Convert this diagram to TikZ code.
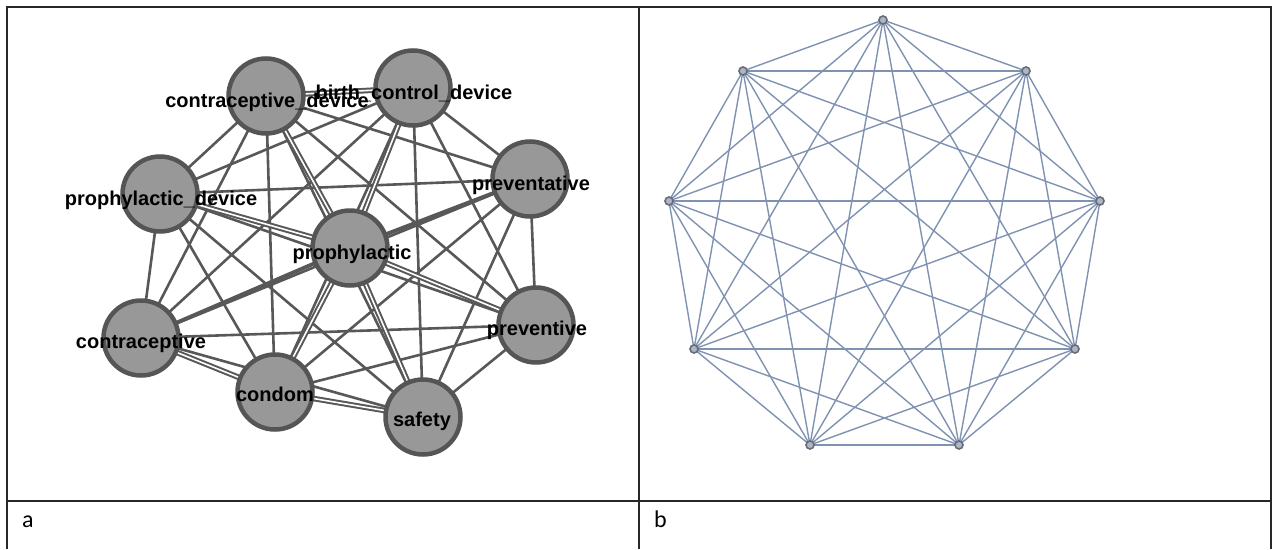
\documentclass[tikz,border=0pt]{standalone}
\usepackage{fontspec}
\setmainfont{Liberation Sans}
\newfontfamily\calfont{Carlito}
\usetikzlibrary{backgrounds}
\definecolor{edgegray}{RGB}{88,88,88}
\definecolor{nodefill}{RGB}{152,152,152}
\definecolor{nodeline}{RGB}{85,85,85}
\definecolor{blueedge}{RGB}{128,146,178}
\definecolor{bnodefill}{RGB}{175,182,194}
\definecolor{bnodeline}{RGB}{100,108,122}
\definecolor{framecol}{RGB}{40,40,40}
\begin{document}
\begin{tikzpicture}[x=1pt,y=-1pt,
  bignode/.style={circle, draw=nodeline, fill=nodefill, line width=4.5pt, minimum size=75pt, inner sep=0pt},
  wlabel/.style={font=\fontsize{20}{20}\selectfont\bfseries, inner sep=0pt, text=black, anchor=base},
  edgeone/.style={draw=edgegray, line width=2.6pt},
  edgethick/.style={draw=edgegray, line width=3.8pt},
  edgedbl/.style={draw=edgegray, line width=2pt, double=white, double distance=1.6pt},
  smallnode/.style={circle, draw=bnodeline, fill=bnodefill, line width=1.6pt, minimum size=8pt, inner sep=0pt},
  bedge/.style={draw=blueedge, line width=1.4pt},
  framestyle/.style={draw=framecol, line width=1.8pt},
  captext/.style={font=\calfont\fontsize{24}{26}\selectfont, anchor=base west, inner sep=0pt}
]
\useasboundingbox (0,0) rectangle (1272,549);
\begin{pgfonlayer}{background}
\fill[white] (0,0) rectangle (1272,549);
\end{pgfonlayer}

% table frame
\draw[framestyle] (7,549) -- (7,7) -- (1271,7) -- (1271,549);
\draw[framestyle] (639,7) -- (639,549);
\draw[framestyle] (7,501) -- (1271,501);
\node[captext] (capa) at (22,527) {a};
\node[captext] (capb) at (654,527) {b};

% panel a nodes
\node[bignode] (cd) at (266,96) {};
\node[bignode] (bcd) at (413,88) {};
\node[bignode] (pv) at (530,179) {};
\node[bignode] (pd) at (160,194) {};
\node[bignode] (p) at (350,248) {};
\node[bignode] (pve) at (536,325) {};
\node[bignode] (c) at (141,338) {};
\node[bignode] (co) at (275,392) {};
\node[bignode] (s) at (423,417) {};

\begin{pgfonlayer}{background}
\foreach \a/\b in {cd/pv, cd/pd, cd/pve, cd/c, cd/co, cd/s,
  bcd/pv, bcd/pd, bcd/pve, bcd/c, bcd/co, bcd/s,
  pv/pd, pv/pve, pv/c, pv/co, pv/s,
  pd/pve, pd/c, pd/co, pd/s,
  pve/c, pve/co, pve/s, c/s}
  \draw[edgeone] (\a.center) -- (\b.center);
\foreach \a/\b in {cd/bcd, cd/p, bcd/p, pd/p, p/pve, p/co, p/s, c/co, co/s}
  \draw[edgedbl] (\a.center) -- (\b.center);
\foreach \a/\b in {p/c, p/pv}
  \draw[edgethick] (\a.center) -- (\b.center);
\end{pgfonlayer}

% panel a labels
\node[wlabel] (lcd) at (267,107) {contraceptive\_device};
\node[wlabel] (lbcd) at (414,99) {birth\_control\_device};
\node[wlabel] (lpv) at (531,190) {preventative};
\node[wlabel] (lpd) at (161,205) {prophylactic\_device};
\node[wlabel] (lp) at (352,259) {prophylactic};
\node[wlabel] (lpve) at (537,335) {preventive};
\node[wlabel] (lc) at (141,348) {contraceptive};
\node[wlabel] (lco) at (275,401) {condom};
\node[wlabel] (ls) at (422,426) {safety};

% panel b
\node[smallnode] (r1) at (883,20) {};
\node[smallnode] (r2) at (1026,71) {};
\node[smallnode] (r3) at (1100,201) {};
\node[smallnode] (r4) at (1075,349) {};
\node[smallnode] (r5) at (959,445) {};
\node[smallnode] (r6) at (810,445) {};
\node[smallnode] (r7) at (694,349) {};
\node[smallnode] (r8) at (669,201) {};
\node[smallnode] (r9) at (743,71) {};
\begin{pgfonlayer}{background}
\foreach \i in {1,...,8}{
  \pgfmathtruncatemacro\nxt{\i+1}
  \foreach \j in {\nxt,...,9}{
    \draw[bedge] (r\i.center) -- (r\j.center);
  }
}
\end{pgfonlayer}
\end{tikzpicture}
\end{document}
